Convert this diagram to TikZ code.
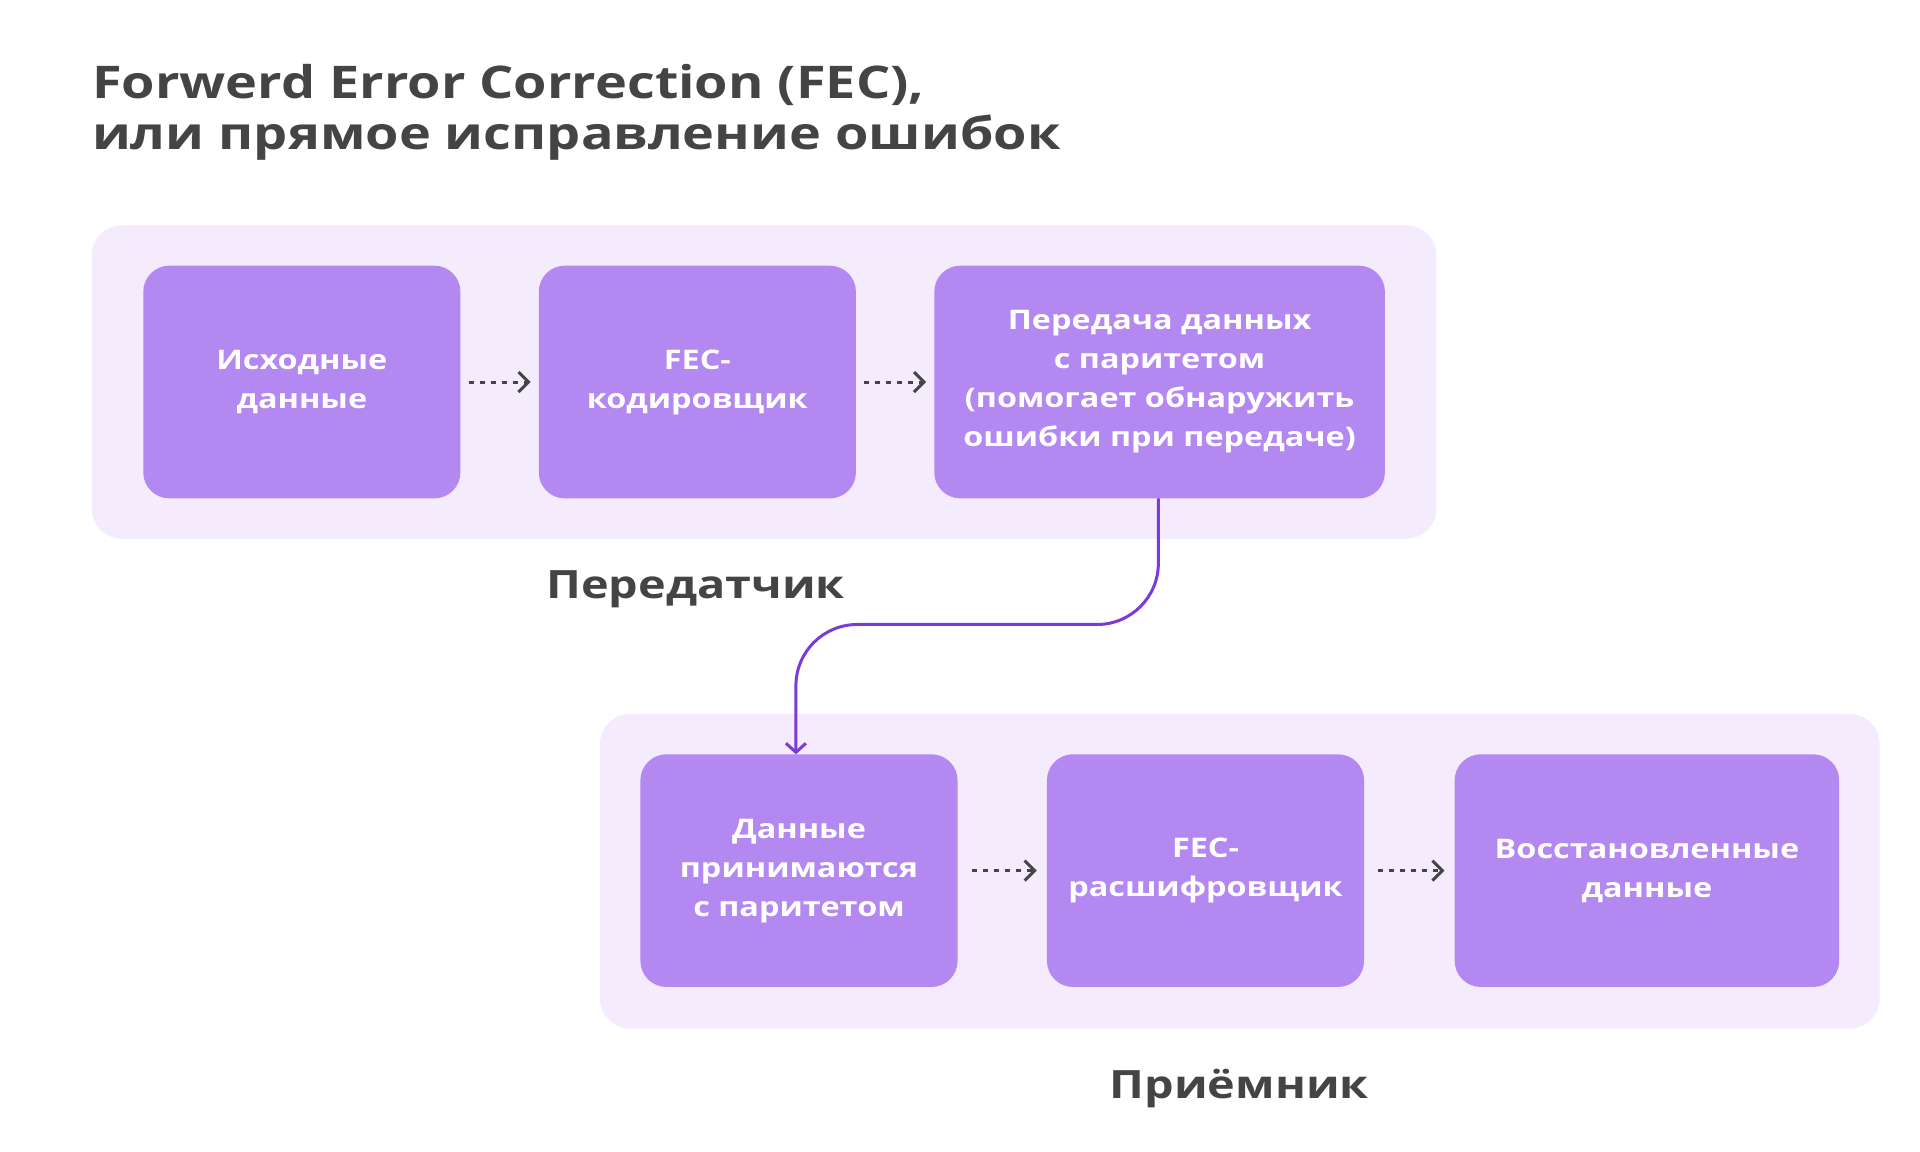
\documentclass[tikz,border=0pt]{standalone}
\usepackage{fontspec}
\setmainfont{Open Sans}[FakeStretch=1.2]
\usetikzlibrary{arrows.meta}
\definecolor{panel}{HTML}{F4EBFD}
\definecolor{boxc}{HTML}{B488F1}
\definecolor{linec}{HTML}{7C3AD8}
\definecolor{txt}{HTML}{444444}
\tikzset{
 panelbox/.style={fill=panel,rounded corners=30pt},
 blk/.style={fill=boxc,rounded corners=26pt,text=white,align=center,font=\fontsize{27}{39}\selectfont\bfseries},
 dots/.style={txt,line width=3pt,dash pattern=on 5pt off 6pt,-{Straight Barb[length=10pt,width=20pt]}},
 lbl/.style={text=txt,font=\fontsize{39}{48}\selectfont\bfseries}
}
\begin{document}
\begin{tikzpicture}[x=1.2245pt,y=-1.2245pt]
\useasboundingbox (0,0) rectangle (1568,940);
\fill[white] (0,0) rectangle (1568,940);
\node[anchor=north west,align=left,inner sep=0pt,text=txt,font=\fontsize{45}{51}\selectfont\bfseries] (title) at (75,52) {Forwerd Error Correction (FEC),\\или прямое исправление ошибок};
\fill[panelbox] (75,184) rectangle (1173,440);
\fill[panelbox] (490,583) rectangle (1535,840);
\node[blk,minimum width=259*1.2245pt,minimum height=190*1.2245pt] (b1) at (246.5,312) {Исходные\\данные};
\node[blk,minimum width=259*1.2245pt,minimum height=190*1.2245pt] (b2) at (569.5,312) {FEC-\\кодировщик};
\node[blk,minimum width=368*1.2245pt,minimum height=190*1.2245pt] (b3) at (947,312) {Передача данных\\с паритетом\\(помогает обнаружить\\ошибки при передаче)};
\node[blk,minimum width=259*1.2245pt,minimum height=190*1.2245pt] (b4) at (652.5,711) {Данные\\принимаются\\с паритетом};
\node[blk,minimum width=259*1.2245pt,minimum height=190*1.2245pt] (b5) at (984.5,711) {FEC-\\расшифровщик};
\node[blk,minimum width=314*1.2245pt,minimum height=190*1.2245pt] (b6) at (1345,711) {Восстановленные\\данные};
\draw[dots] ([xshift=8pt]b1.east) -- ([xshift=-8pt]b2.west);
\draw[dots] ([xshift=8pt]b2.east) -- ([xshift=-8pt]b3.west);
\draw[dots] ([xshift=14pt]b4.east) -- ([xshift=-10pt]b5.west);
\draw[dots] ([xshift=14pt]b5.east) -- ([xshift=-10pt]b6.west);
\node[lbl] (l1) at (568,481) {Передатчик};
\node[lbl] (l2) at (1012,889) {Приёмник};
\coordinate (s) at (946,407);
\draw[linec,line width=3pt,-{Straight Barb[length=9pt,width=20pt]}] (s) -- (946,460) arc[start angle=0,end angle=90,radius=50] -- (700,510) arc[start angle=270,end angle=180,radius=50] -- (650,616);
\end{tikzpicture}
\end{document}
